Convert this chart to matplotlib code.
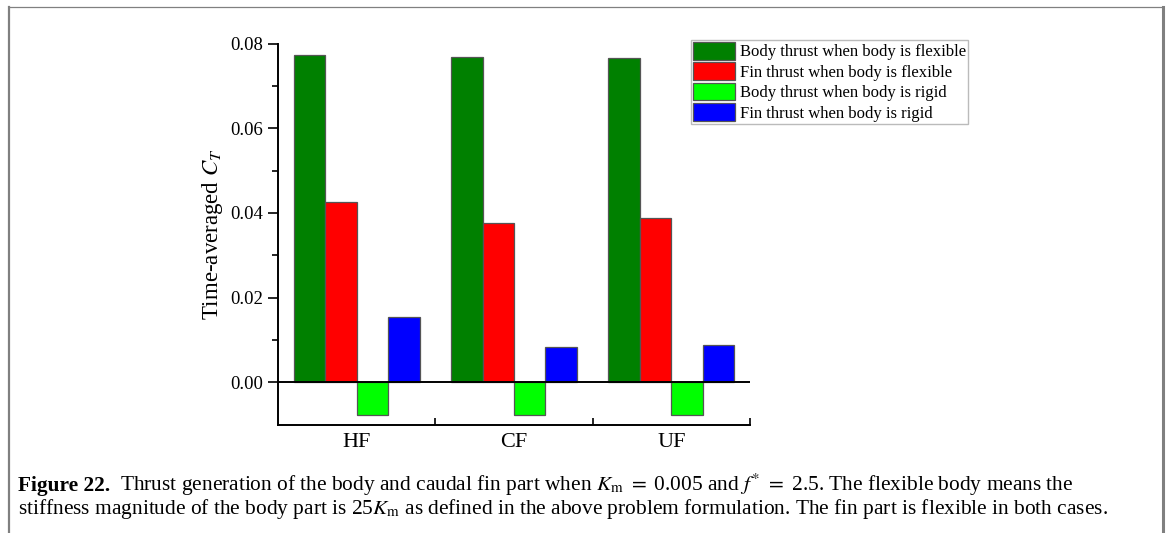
import matplotlib
matplotlib.use("Agg")
import matplotlib.pyplot as plt
from matplotlib.lines import Line2D
from matplotlib.patches import Patch
import numpy as np

# ── Data ──
categories = ["HF", "CF", "UF"]
body_flexible = [0.0772, 0.0768, 0.0766]
fin_flexible = [0.0425, 0.0375, 0.0387]
body_rigid = [-0.0078, -0.0078, -0.0078]
fin_rigid = [0.0154, 0.0083, 0.0087]

series_labels = [
    "Body thrust when body is flexible",
    "Fin thrust when body is flexible",
    "Body thrust when body is rigid",
    "Fin thrust when body is rigid",
]
colors = ["#008000", "#ff0000", "#00ff00", "#0000ff"]

caption_head = "Figure 22."
caption_line1 = (r"Thrust generation of the body and caudal fin part when $K_{\mathrm{m}}\ =\ $0.005 "
                 r"and $f^{*}\ =\ $2.5. The flexible body means the")
caption_line2 = (r"stiffness magnitude of the body part is 25$K_{\mathrm{m}}$ as defined in the above "
                 r"problem formulation. The fin part is flexible in both cases.")

plt.rcParams["font.family"] = ["Liberation Serif", "DejaVu Serif"]
plt.rcParams["mathtext.fontset"] = "stix"

W, H = 1167, 533
fig = plt.figure(figsize=(W / 100, H / 100), dpi=100)
ax = fig.add_axes([278 / W, 1 - 424.5 / H, (750 - 278) / W, (424.5 - 43.5) / H])

x = np.arange(1, len(categories) + 1)
width = 0.2
all_series = [body_flexible, fin_flexible, body_rigid, fin_rigid]
for i, (vals, color) in enumerate(zip(all_series, colors)):
    ax.bar(x + (i - 1.5) * width, vals, width, color=color,
           edgecolor="#555555", linewidth=0.9, zorder=2)

ax.axhline(0, color="black", linewidth=1.4, zorder=3)

ax.set_xlim(0.5, 3.5)
ax.set_ylim(-0.01, 0.08)

for side in ("top", "right"):
    ax.spines[side].set_visible(False)
for side in ("left", "bottom"):
    ax.spines[side].set_linewidth(1.4)

# group boundaries get the tick marks, group centres get the labels
ax.set_xticks([1.5, 2.5, 3.5])
ax.set_xticklabels([])
ax.set_xticks(x, minor=True)
ax.set_xticklabels(categories, minor=True, fontsize=16)
ax.tick_params(axis="x", which="major", direction="in", length=5, width=1.2)
ax.tick_params(axis="x", which="minor", length=0, pad=6)

ax.set_yticks([0.0, 0.02, 0.04, 0.06, 0.08])
ax.set_yticks([0.01, 0.03, 0.05, 0.07], minor=True)
ax.set_yticklabels([f"{v:.2f}" for v in [0.0, 0.02, 0.04, 0.06, 0.08]], fontsize=13.5)
ax.tick_params(axis="y", which="major", direction="out", length=7, width=1.2)
ax.tick_params(axis="y", which="minor", direction="out", length=4, width=1.2)

ax.set_ylabel(r"Time-averaged $C_T$", fontsize=16.5, labelpad=4)

handles = [Patch(facecolor=c, edgecolor="#555555", linewidth=0.9) for c in colors]
fig.legend(handles, series_labels, loc="upper right",
           bbox_to_anchor=(968 / W, 1 - 40 / H), fontsize=12,
           frameon=True, fancybox=False, edgecolor="#aaaaaa",
           handlelength=2.5, handleheight=1.25, labelspacing=0.12,
           handletextpad=0.3, borderpad=0.12, borderaxespad=0)

# caption below the plot
fs_cap = 15.4
head = fig.text(18 / W, 1 - 491 / H, caption_head, fontsize=fs_cap, fontweight="bold",
                va="baseline", ha="left")
fig.canvas.draw()
bb = head.get_window_extent(fig.canvas.get_renderer())
fig.text((bb.x1 + 10) / W, 1 - 491 / H, caption_line1, fontsize=fs_cap,
         va="baseline", ha="left")
fig.text(18 / W, 1 - 514 / H, caption_line2, fontsize=fs_cap,
         va="baseline", ha="left")

# gray frame around the figure panel
frame = "#808080"
fig.add_artist(Line2D([9 / W, 9 / W], [0, 1 - 6.5 / H], color=frame, linewidth=1.6,
                      transform=fig.transFigure))
fig.add_artist(Line2D([9 / W, 1162.5 / W], [1 - 6.5 / H, 1 - 6.5 / H], color=frame,
                      linewidth=0.9, transform=fig.transFigure))
fig.add_artist(Line2D([1162.5 / W, 1162.5 / W], [0, 1 - 6.5 / H], color=frame,
                      linewidth=2.2, transform=fig.transFigure))

fig.savefig("out.png", dpi=100)
